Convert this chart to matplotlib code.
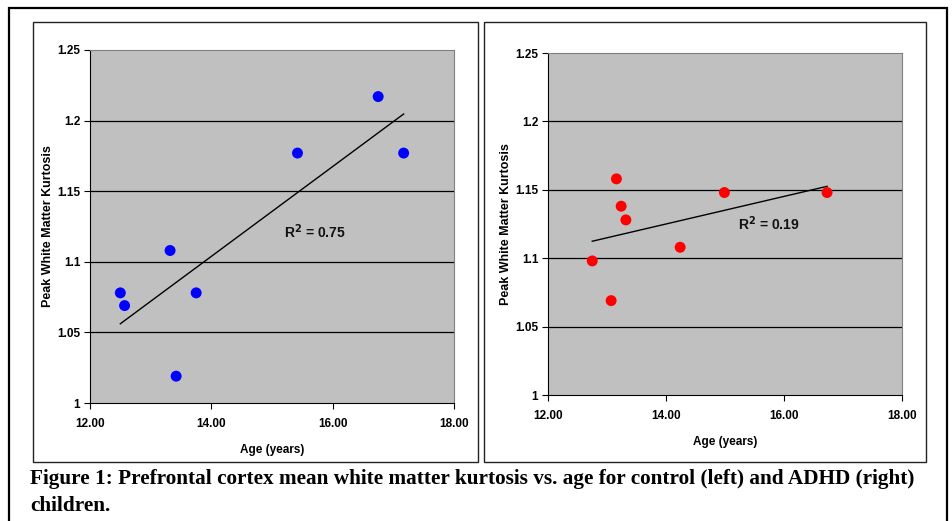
import numpy as np
import matplotlib
matplotlib.use("Agg")
import matplotlib.pyplot as plt
from matplotlib.patches import Rectangle

# control children (left)
ctrl_age = [12.50, 12.57, 13.32, 13.42, 13.75, 15.42, 16.75, 17.17]
ctrl_kurt = [1.078, 1.069, 1.108, 1.019, 1.078, 1.177, 1.217, 1.177]
ctrl_r2 = "0.75"

# ADHD children (right)
adhd_age = [12.75, 13.07, 13.16, 13.24, 13.32, 14.24, 14.99, 16.73]
adhd_kurt = [1.098, 1.069, 1.158, 1.138, 1.128, 1.108, 1.148, 1.148]
adhd_r2 = "0.19"

x_ticks = [12, 14, 16, 18]
y_ticks = [1, 1.05, 1.1, 1.15, 1.2, 1.25]
y_ticklabels = ["1", "1.05", "1.1", "1.15", "1.2", "1.25"]

caption = ("Figure 1: Prefrontal cortex mean white matter kurtosis vs. age for control (left) and ADHD (right)\n"
           "children.")

W, H = 952, 521
fig = plt.figure(figsize=(W / 100, H / 100), dpi=100)
plt.rcParams['font.family'] = ['Liberation Sans', 'DejaVu Sans']


def px_axes(x0, y0, x1, y1):
    return fig.add_axes([x0 / W, 1 - y1 / H, (x1 - x0) / W, (y1 - y0) / H])


def px_rect(x0, y0, x1, y1, lw, color):
    fig.patches.append(Rectangle((x0 / W, 1 - y1 / H), (x1 - x0) / W, (y1 - y0) / H,
                                 transform=fig.transFigure, fill=False,
                                 lw=lw, edgecolor=color, zorder=0))


# outer frame and panel boxes
px_rect(9, 8, 947, 530, 1.6, "black")
px_rect(33, 22, 478, 462, 1.0, "#222222")
px_rect(484, 22, 926, 462, 1.0, "#222222")


def panel(ax, ages, kurt, color, r2, r2_pos):
    ax.set_facecolor("#c0c0c0")
    ax.set_xlim(12, 18)
    ax.set_ylim(1, 1.25)
    ax.set_xticks(x_ticks)
    ax.set_xticklabels([f"{t:.2f}" for t in x_ticks])
    ax.set_yticks(y_ticks)
    ax.set_yticklabels(y_ticklabels)
    for t in y_ticks[1:-1]:
        ax.axhline(t, color="black", lw=0.9, zorder=1)
    ax.tick_params(direction="out", length=4, width=0.8, labelsize=8.5, pad=3)
    ax.tick_params(axis="x", pad=7)
    for lab in ax.get_xticklabels() + ax.get_yticklabels():
        lab.set_fontweight("bold")
    ax.spines["left"].set_color("black")
    ax.spines["bottom"].set_color("black")
    ax.spines["top"].set_color("#808080")
    ax.spines["right"].set_color("#808080")
    ax.scatter(ages, kurt, s=62, color=color, zorder=3, edgecolors="none")
    slope, icpt = np.polyfit(ages, kurt, 1)
    xs = np.array([min(ages), max(ages)])
    ax.plot(xs, slope * xs + icpt, color="black", lw=1.0, zorder=2)
    ax.text(r2_pos[0], r2_pos[1], "R$^{\\mathbf{2}}$ = " + r2, fontsize=10,
            fontweight="bold", ha="left", va="center", color="#111111")
    ax.set_xlabel("Age (years)", fontsize=8.5, fontweight="bold", labelpad=10)
    ax.set_ylabel("Peak White Matter Kurtosis", fontsize=9, fontweight="bold", labelpad=2)


ax1 = px_axes(90, 50, 454, 403)
panel(ax1, ctrl_age, ctrl_kurt, "#0000ff", ctrl_r2, (15.2, 1.121))

ax2 = px_axes(548, 53, 902, 395)
panel(ax2, adhd_age, adhd_kurt, "#ff0000", adhd_r2, (15.22, 1.125))

fig.text(30 / W, 1 - 469 / H, caption, fontsize=15.3, fontweight="bold",
         family=["Liberation Serif", "DejaVu Serif"], ha="left", va="top",
         linespacing=1.45)

fig.savefig("out.png", dpi=100)
